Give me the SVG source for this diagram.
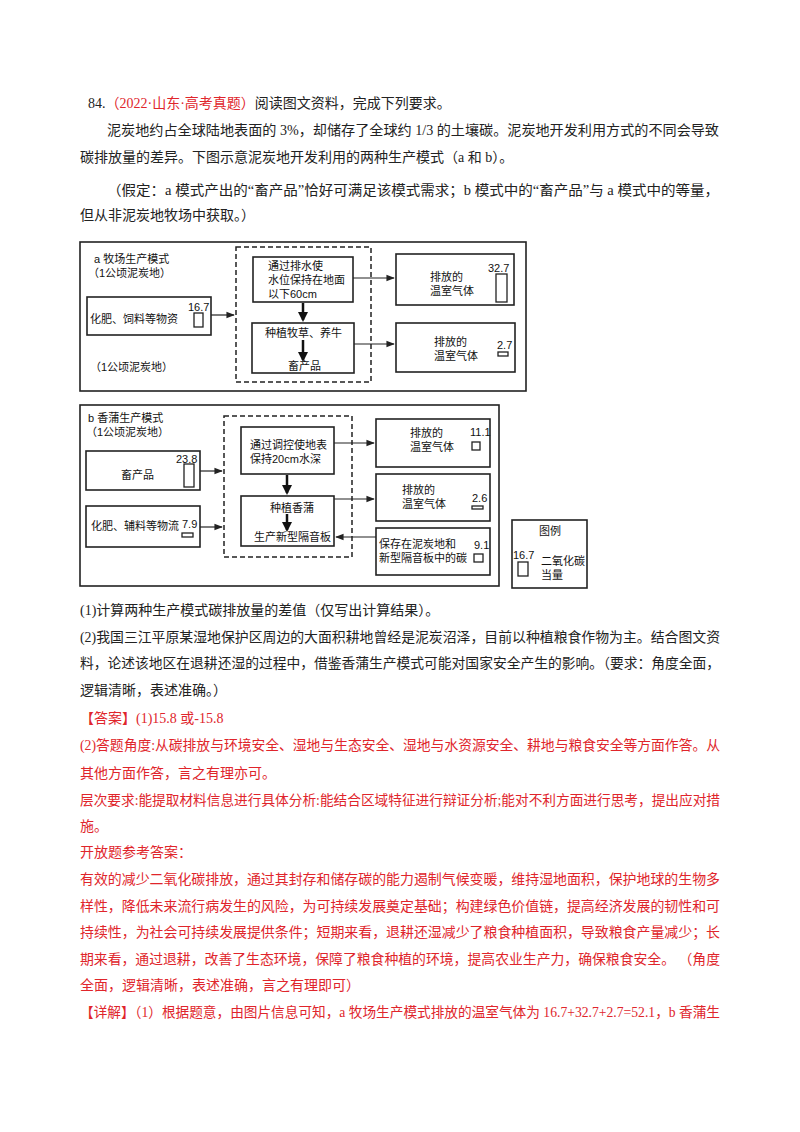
<svg xmlns="http://www.w3.org/2000/svg" width="800" height="1132" viewBox="0 0 800 1132">
<style>
.t{font-family:"Liberation Serif","Noto Sans CJK SC",serif;font-size:14px;fill:#222}
.r{fill:#e0252b}
.d{font-family:"Liberation Sans","Noto Sans CJK SC",sans-serif;font-size:11px;fill:#111}
.box{fill:#fff;stroke:#222;stroke-width:1.6}
.dash{fill:none;stroke:#222;stroke-width:1.5;stroke-dasharray:5,3}
.bar{fill:#fff;stroke:#222;stroke-width:1.3}
.ln{stroke:#222;stroke-width:1.2;fill:none}
.th{stroke:#111;stroke-width:2.5;fill:none}
</style>
<defs>
<marker id="ah" viewBox="0 0 10 10" refX="9" refY="5" markerWidth="7" markerHeight="7" orient="auto"><path d="M0,1 L10,5 L0,9 Z" fill="#222"/></marker>
<marker id="bh" viewBox="0 0 10 10" refX="8" refY="5" markerWidth="4" markerHeight="4" orient="auto"><path d="M0,0 L10,5 L0,10 Z" fill="#111"/></marker>
</defs>
<rect width="800" height="1132" fill="#fff"/>
<g id="header">
<text class="t" x="88" y="108">84.<tspan class="r">（2022·山东·高考真题）</tspan>阅读图文资料，完成下列要求。</text>
<text class="t" x="107" y="135" textLength="612" lengthAdjust="spacingAndGlyphs">泥炭地约占全球陆地表面的 3%，却储存了全球约 1/3 的土壤碳。泥炭地开发利用方式的不同会导致</text>
<text class="t" x="80" y="162">碳排放量的差异。下图示意泥炭地开发利用的两种生产模式（a 和 b）。</text>
<text class="t" x="107" y="195" textLength="612" lengthAdjust="spacingAndGlyphs">（假定：a 模式产出的“畜产品”恰好可满足该模式需求；b 模式中的“畜产品”与 a 模式中的等量，</text>
<text class="t" x="80" y="220">但从非泥炭地牧场中获取。）</text>
</g>
<g id="diagram-a">
<rect class="box" x="80" y="242" width="446" height="149"/>
<text class="d" x="94" y="263">a 牧场生产模式</text>
<text class="d" x="88" y="277">（1公顷泥炭地）</text>
<text class="d" x="90" y="371">（1公顷泥炭地）</text>
<g id="a-input"><rect class="box" x="87" y="297" width="124" height="38"/><text class="d" x="90" y="323">化肥、饲料等物资</text><text class="d" x="188" y="311">16.7</text><rect class="bar" x="194" y="313" width="9" height="14"/></g>
<rect class="dash" x="236" y="247" width="135" height="135"/>
<g id="a-drain"><rect class="box" x="253" y="257" width="100" height="45"/><text class="d" x="268" y="270">通过排水使</text><text class="d" x="268" y="284">水位保持在地面</text><text class="d" x="268" y="298">以下60cm</text></g>
<g id="a-grow"><rect class="box" x="252" y="323" width="102" height="50"/><text class="d" x="265" y="337">种植牧草、养牛</text><text class="d" x="288" y="370">畜产品</text></g>
<g id="a-out1"><rect class="box" x="396" y="254" width="118" height="51"/><text class="d" x="430" y="281">排放的</text><text class="d" x="430" y="295">温室气体</text><text class="d" x="488" y="272">32.7</text><rect class="bar" x="496" y="274" width="11" height="28"/></g>
<g id="a-out2"><rect class="box" x="396" y="323" width="119" height="49"/><text class="d" x="434" y="346">排放的</text><text class="d" x="434" y="360">温室气体</text><text class="d" x="497" y="349">2.7</text><rect class="bar" x="498" y="352" width="10" height="4"/></g>
</g>
<g id="diagram-b">
<rect class="box" x="80" y="405" width="419" height="181"/>
<text class="d" x="88" y="422">b 香蒲生产模式</text>
<text class="d" x="86" y="436">（1公顷泥炭地）</text>
<g id="b-in1"><rect class="box" x="86" y="451" width="114" height="39"/><text class="d" x="121" y="479">畜产品</text><text class="d" x="176" y="463">23.8</text><rect class="bar" x="184" y="464" width="10" height="23"/></g>
<g id="b-in2"><rect class="box" x="86" y="506" width="114" height="41"/><text class="d" x="91" y="530">化肥、辅料等物流</text><text class="d" x="182" y="528">7.9</text><rect class="bar" x="182" y="533" width="11" height="4"/></g>
<rect class="dash" x="224" y="416" width="128" height="141"/>
<g id="b-ctrl"><rect class="box" x="241" y="427" width="93" height="47"/><text class="d" x="250" y="449">通过调控使地表</text><text class="d" x="250" y="463">保持20cm水深</text></g>
<g id="b-grow"><rect class="box" x="241" y="496" width="93" height="50"/><text class="d" x="270" y="512">种植香蒲</text><text class="d" x="254" y="541">生产新型隔音板</text></g>
<g id="b-out1"><rect class="box" x="376" y="419" width="114" height="48"/><text class="d" x="410" y="437">排放的</text><text class="d" x="410" y="451">温室气体</text><text class="d" x="470" y="436">11.1</text><rect class="bar" x="472" y="442" width="8" height="8"/></g>
<g id="b-out2"><rect class="box" x="376" y="474" width="114" height="47"/><text class="d" x="402" y="494">排放的</text><text class="d" x="402" y="508">温室气体</text><text class="d" x="472" y="502">2.6</text><rect class="bar" x="472" y="506" width="11" height="3"/></g>
<g id="b-out3"><rect class="box" x="376" y="528" width="114" height="47"/><text class="d" x="379" y="548">保存在泥炭地和</text><text class="d" x="379" y="562">新型隔音板中的碳</text><text class="d" x="474" y="549">9.1</text><rect class="bar" x="474" y="554" width="9" height="8"/></g>
<g id="legend"><rect class="box" x="512" y="520" width="75" height="68"/><text class="d" x="539" y="535">图例</text><text class="d" x="513" y="559">16.7</text><rect class="bar" x="518" y="562" width="10" height="14"/><text class="d" x="541" y="565">二氧化碳</text><text class="d" x="541" y="579">当量</text></g>
</g>
<g id="connectors">
<line class="ln" x1="211" y1="315" x2="234" y2="315" marker-end="url(#ah)"/>
<line class="ln" x1="353" y1="278" x2="394" y2="278" marker-end="url(#ah)"/>
<line class="ln" x1="354" y1="344" x2="394" y2="344" marker-end="url(#ah)"/>
<line class="th" x1="303" y1="303" x2="303" y2="320" marker-end="url(#bh)"/>
<line class="th" x1="303" y1="340" x2="303" y2="360" marker-end="url(#bh)"/>
<line class="ln" x1="200" y1="471" x2="222" y2="471" marker-end="url(#ah)"/>
<line class="ln" x1="200" y1="527" x2="222" y2="527" marker-end="url(#ah)"/>
<line class="ln" x1="334" y1="443" x2="374" y2="443" marker-end="url(#ah)"/>
<line class="ln" x1="334" y1="499" x2="374" y2="499" marker-end="url(#ah)"/>
<line class="ln" x1="376" y1="537" x2="336" y2="537" marker-end="url(#ah)"/>
<line class="th" x1="287" y1="475" x2="287" y2="493" marker-end="url(#bh)"/>
<line class="th" x1="287" y1="514" x2="287" y2="530" marker-end="url(#bh)"/>
</g>
<g id="body">
<text class="t" x="80" y="615">(1)计算两种生产模式碳排放量的差值（仅写出计算结果）。</text>
<text class="t" x="80" y="642" textLength="640" lengthAdjust="spacingAndGlyphs">(2)我国三江平原某湿地保护区周边的大面积耕地曾经是泥炭沼泽，目前以种植粮食作物为主。结合图文资</text>
<text class="t" x="80" y="668" textLength="640" lengthAdjust="spacingAndGlyphs">料，论述该地区在退耕还湿的过程中，借鉴香蒲生产模式可能对国家安全产生的影响。（要求：角度全面，</text>
<text class="t" x="80" y="695">逻辑清晰，表述准确。）</text>
<text class="t r" x="80" y="723">【答案】(1)15.8 或-15.8</text>
<text class="t r" x="80" y="750" textLength="640" lengthAdjust="spacingAndGlyphs">(2)答题角度:从碳排放与环境安全、湿地与生态安全、湿地与水资源安全、耕地与粮食安全等方面作答。从</text>
<text class="t r" x="80" y="778">其他方面作答，言之有理亦可。</text>
<text class="t r" x="80" y="805" textLength="640" lengthAdjust="spacingAndGlyphs">层次要求:能提取材料信息进行具体分析:能结合区域特征进行辩证分析;能对不利方面进行思考，提出应对措</text>
<text class="t r" x="80" y="831">施。</text>
<text class="t r" x="80" y="857">开放题参考答案：</text>
<text class="t r" x="80" y="884" textLength="640" lengthAdjust="spacingAndGlyphs">有效的减少二氧化碳排放，通过其封存和储存碳的能力遏制气候变暖，维持湿地面积，保护地球的生物多</text>
<text class="t r" x="80" y="911" textLength="640" lengthAdjust="spacingAndGlyphs">样性，降低未来流行病发生的风险，为可持续发展奠定基础；构建绿色价值链，提高经济发展的韧性和可</text>
<text class="t r" x="80" y="937" textLength="640" lengthAdjust="spacingAndGlyphs">持续性，为社会可持续发展提供条件；短期来看，退耕还湿减少了粮食种植面积，导致粮食产量减少；长</text>
<text class="t r" x="80" y="964" textLength="640" lengthAdjust="spacingAndGlyphs">期来看，通过退耕，改善了生态环境，保障了粮食种植的环境，提高农业生产力，确保粮食安全。 （角度</text>
<text class="t r" x="80" y="990">全面，逻辑清晰，表述准确，言之有理即可）</text>
<text class="t r" x="80" y="1017" textLength="640" lengthAdjust="spacingAndGlyphs">【详解】（1）根据题意，由图片信息可知，a 牧场生产模式排放的温室气体为 16.7+32.7+2.7=52.1，b 香蒲生</text>
</g>
</svg>
